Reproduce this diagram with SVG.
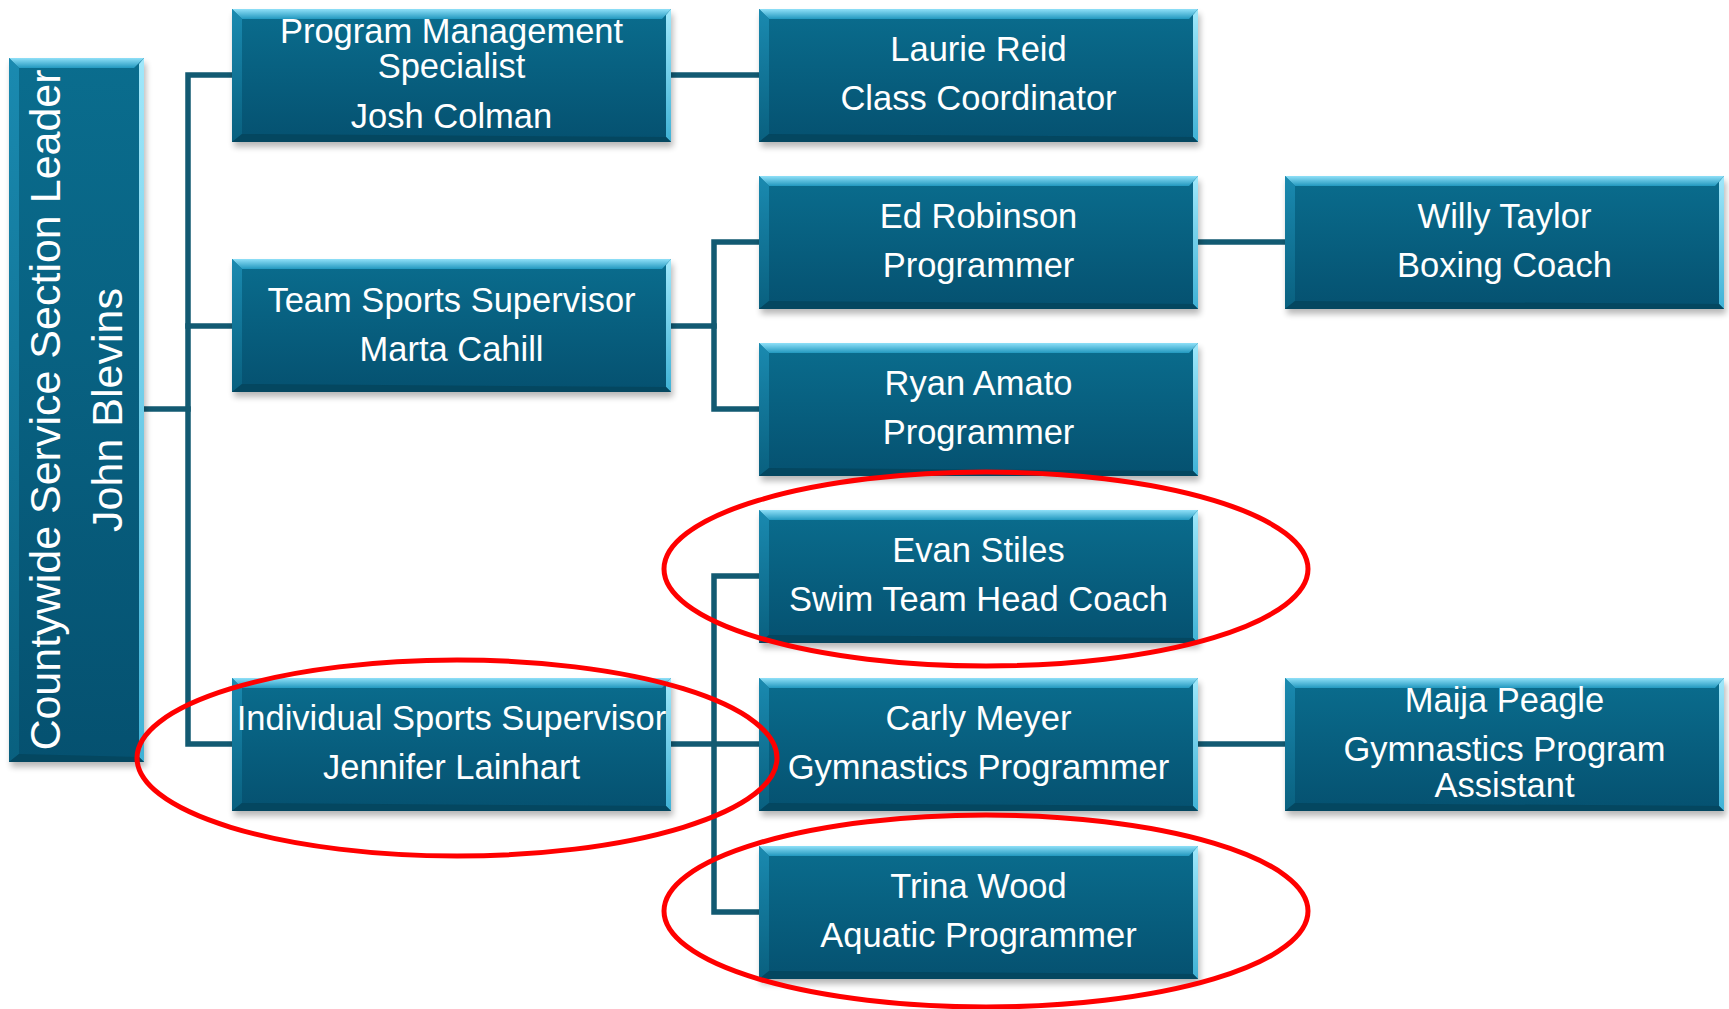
<svg xmlns="http://www.w3.org/2000/svg" xmlns:xlink="http://www.w3.org/1999/xlink" width="1729" height="1009" viewBox="0 0 1729 1009">
<defs>
<style>
.t{font-family:"Liberation Sans",Arial,sans-serif;font-size:34.5px;fill:#ffffff;text-anchor:middle}
.big{font-size:43px}
.c{stroke:#125a72;stroke-width:5.5;fill:none;stroke-linecap:square}
.r{fill:none;stroke:#ff0000;stroke-width:5}
</style>
<linearGradient id="gBody" x1="0" y1="0" x2="0" y2="1"><stop offset="0" stop-color="#0a6d8e"/><stop offset="1" stop-color="#055170"/></linearGradient>
<linearGradient id="gTop" x1="0" y1="0" x2="0" y2="1"><stop offset="0" stop-color="#8fe0f8"/><stop offset="1" stop-color="#2298bf"/></linearGradient>
<linearGradient id="gLeft" x1="0" y1="0" x2="0" y2="1"><stop offset="0" stop-color="#1a8ab0"/><stop offset="1" stop-color="#09607f"/></linearGradient>
<linearGradient id="gRight" x1="0" y1="0" x2="0" y2="1"><stop offset="0" stop-color="#a0e8fb"/><stop offset="1" stop-color="#3fb2d6"/></linearGradient>
<filter id="sh" x="-10%" y="-10%" width="120%" height="130%"><feGaussianBlur stdDeviation="3"/></filter>
<g id="bx">
<rect x="2" y="5" width="439" height="133" fill="#000" opacity="0.28" filter="url(#sh)"/>
<rect width="439" height="133" fill="url(#gBody)"/>
<polygon points="0,0 439,0 430,10 10,10" fill="url(#gTop)"/>
<polygon points="0,0 10,10 10,125 0,133" fill="url(#gLeft)"/>
<polygon points="439,0 439,133 434,128 434,6" fill="url(#gRight)"/>
<polygon points="0,133 439,133 434,128 10,125" fill="#044760"/>
</g>
</defs>
<rect width="1729" height="1009" fill="#ffffff"/>

<g id="connectors">
<path class="c" d="M144,409 H188"/>
<path class="c" d="M232,75 H188 V744 H232"/>
<path class="c" d="M188,326 H232"/>
<path class="c" d="M670,75 H759"/>
<path class="c" d="M670,326 H714"/>
<path class="c" d="M759,242 H714 V409 H759"/>
<path class="c" d="M1198,242 H1285"/>
<path class="c" d="M670,744 H759"/>
<path class="c" d="M759,576 H714 V912 H759"/>
<path class="c" d="M1198,744 H1285"/>
</g>

<g id="node-leader">
<rect x="11" y="63" width="135" height="704" fill="#000" opacity="0.28" filter="url(#sh)"/>
<rect x="9" y="58" width="135" height="704" fill="url(#gBody)"/>
<polygon points="9,58 144,58 134,68 19,68" fill="url(#gTop)"/>
<polygon points="9,58 19,68 19,754 9,762" fill="url(#gLeft)"/>
<polygon points="144,58 144,762 139,757 139,64" fill="url(#gRight)"/>
<polygon points="9,762 144,762 139,757 19,754" fill="#044760"/>
<text class="t big" transform="translate(60,410) rotate(-90)">Countywide Service Section Leader</text>
<text class="t big" transform="translate(122,410) rotate(-90)">John Blevins</text>
</g>

<g id="node-pms">
<use xlink:href="#bx" x="232" y="9"/>
<text class="t" x="451.5" y="43">Program Management</text>
<text class="t" x="451.5" y="78">Specialist</text>
<text class="t" x="451.5" y="128">Josh Colman</text>
</g>

<g id="node-laurie">
<use xlink:href="#bx" x="759" y="9"/>
<text class="t" x="978.5" y="61">Laurie Reid</text>
<text class="t" x="978.5" y="110">Class Coordinator</text>
</g>

<g id="node-team">
<use xlink:href="#bx" x="232" y="259"/>
<text class="t" x="451.5" y="312">Team Sports Supervisor</text>
<text class="t" x="451.5" y="361">Marta Cahill</text>
</g>

<g id="node-ed">
<use xlink:href="#bx" x="759" y="176"/>
<text class="t" x="978.5" y="228">Ed Robinson</text>
<text class="t" x="978.5" y="277">Programmer</text>
</g>

<g id="node-willy">
<use xlink:href="#bx" x="1285" y="176"/>
<text class="t" x="1504.5" y="228">Willy Taylor</text>
<text class="t" x="1504.5" y="277">Boxing Coach</text>
</g>

<g id="node-ryan">
<use xlink:href="#bx" x="759" y="343"/>
<text class="t" x="978.5" y="395">Ryan Amato</text>
<text class="t" x="978.5" y="444">Programmer</text>
</g>

<g id="node-evan">
<use xlink:href="#bx" x="759" y="510"/>
<text class="t" x="978.5" y="562">Evan Stiles</text>
<text class="t" x="978.5" y="611">Swim Team Head Coach</text>
</g>

<g id="node-individual">
<use xlink:href="#bx" x="232" y="678"/>
<text class="t" x="451.5" y="730">Individual Sports Supervisor</text>
<text class="t" x="451.5" y="779">Jennifer Lainhart</text>
</g>

<g id="node-carly">
<use xlink:href="#bx" x="759" y="678"/>
<text class="t" x="978.5" y="730">Carly Meyer</text>
<text class="t" x="978.5" y="779">Gymnastics Programmer</text>
</g>

<g id="node-maija">
<use xlink:href="#bx" x="1285" y="678"/>
<text class="t" x="1504.5" y="712">Maija Peagle</text>
<text class="t" x="1504.5" y="761">Gymnastics Program</text>
<text class="t" x="1504.5" y="797">Assistant</text>
</g>

<g id="node-trina">
<use xlink:href="#bx" x="759" y="846"/>
<text class="t" x="978.5" y="898">Trina Wood</text>
<text class="t" x="978.5" y="947">Aquatic Programmer</text>
</g>

<g id="highlights">
<ellipse class="r" cx="986" cy="569" rx="322" ry="97"/>
<ellipse class="r" cx="457" cy="758" rx="320" ry="98"/>
<ellipse class="r" cx="986" cy="911" rx="322" ry="96"/>
</g>
</svg>
